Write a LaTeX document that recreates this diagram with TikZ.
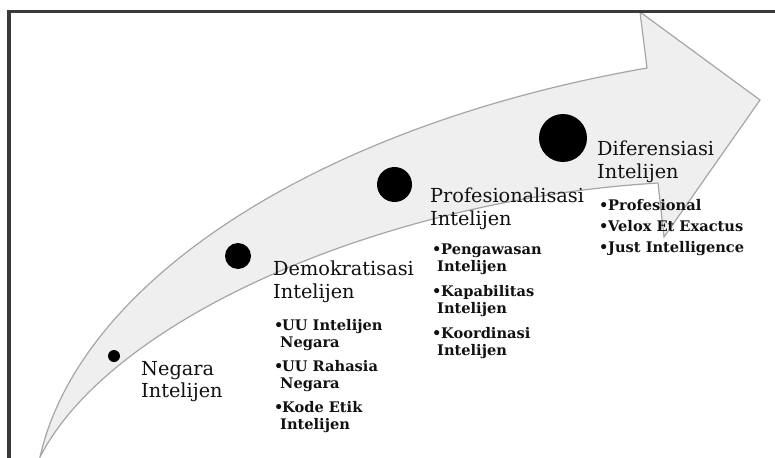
\documentclass[tikz,border=0pt]{standalone}
\usepackage{fontspec}
\setmainfont{DejaVu Serif}
\definecolor{txt}{HTML}{111111}
\definecolor{bandfill}{HTML}{EFEFEF}
\definecolor{bandline}{HTML}{A6A6A6}
\definecolor{frame}{HTML}{3A3A3A}
\newcommand{\mytwo}[2]{\vtop{\hbox{#1}\hbox{#2}}}
\newcommand{\myone}[1]{\vtop{\hbox{#1}}}
\begin{document}
\begin{tikzpicture}[x=1pt,y=-1pt,
  bigdot/.style={circle,fill=black,inner sep=0pt,minimum size=#1},
  headtext/.style={anchor=base west,inner sep=0pt,text=txt,font=\fontsize{19.3}{23}\selectfont},
  itemtext/.style={anchor=base west,inner sep=0pt,text=txt,font=\fontsize{14.6}{17}\selectfont\bfseries},
  band/.style={fill=bandfill,draw=bandline,line width=1.2pt,line join=miter}]
\useasboundingbox (0,0) rectangle (775,457);
\fill[white] (0,0) rectangle (775,457);
% curved arrow
\draw[band] (40,457) .. controls (80,280) and (320,125) .. (647,68)
  -- (640,12) -- (760,100) -- (664,237) -- (658,183)
  .. controls (380,200) and (110,320) .. cycle;
% frame
\draw[frame,line width=3.5pt,line join=miter] (9,460) -- (9,11.5) -- (778,11.5);
% dots
\node[bigdot=12pt] (d1) at (114,356) {};
\node[bigdot=26pt] (d2) at (238,256) {};
\node[bigdot=35pt] (d3) at (394.5,184.5) {};
\node[bigdot=48pt] (d4) at (563,138) {};
% headings
\node[headtext] (h1) at (141,375) {\vtop{\baselineskip=22pt\hbox{Negara}\hbox{Intelijen}}};
\node[headtext] (h2) at (273,275) {\mytwo{Demokratisasi}{Intelijen}};
\node[headtext] (h3) at (430,202) {\mytwo{Profesionalisasi}{Intelijen}};
\node[headtext] (h4) at (597,155) {\mytwo{Diferensiasi}{Intelijen}};
% items Demokratisasi
\node[itemtext] (a1) at (274,330) {\mytwo{\makebox[8pt][l]{•}UU Intelijen}{\hspace*{6pt}Negara}};
\node[itemtext] (a2) at (274,371) {\mytwo{\makebox[8pt][l]{•}UU Rahasia}{\hspace*{6pt}Negara}};
\node[itemtext] (a3) at (274,412) {\mytwo{\makebox[8pt][l]{•}Kode Etik}{\hspace*{6pt}Intelijen}};
% items Profesionalisasi
\node[itemtext] (b1) at (432,254) {\mytwo{\makebox[9pt][l]{•}Pengawasan}{\hspace*{5pt}Intelijen}};
\node[itemtext] (b2) at (432,296) {\mytwo{\makebox[9pt][l]{•}Kapabilitas}{\hspace*{5pt}Intelijen}};
\node[itemtext] (b3) at (432,338) {\mytwo{\makebox[9pt][l]{•}Koordinasi}{\hspace*{5pt}Intelijen}};
% items Diferensiasi
\node[itemtext] (c1) at (599,210) {\myone{\makebox[9pt][l]{•}Profesional}};
\node[itemtext] (c2) at (599,231) {\myone{\makebox[9pt][l]{•}Velox Et Exactus}};
\node[itemtext] (c3) at (599,252) {\myone{\makebox[9pt][l]{•}Just Intelligence}};
\end{tikzpicture}
\end{document}
